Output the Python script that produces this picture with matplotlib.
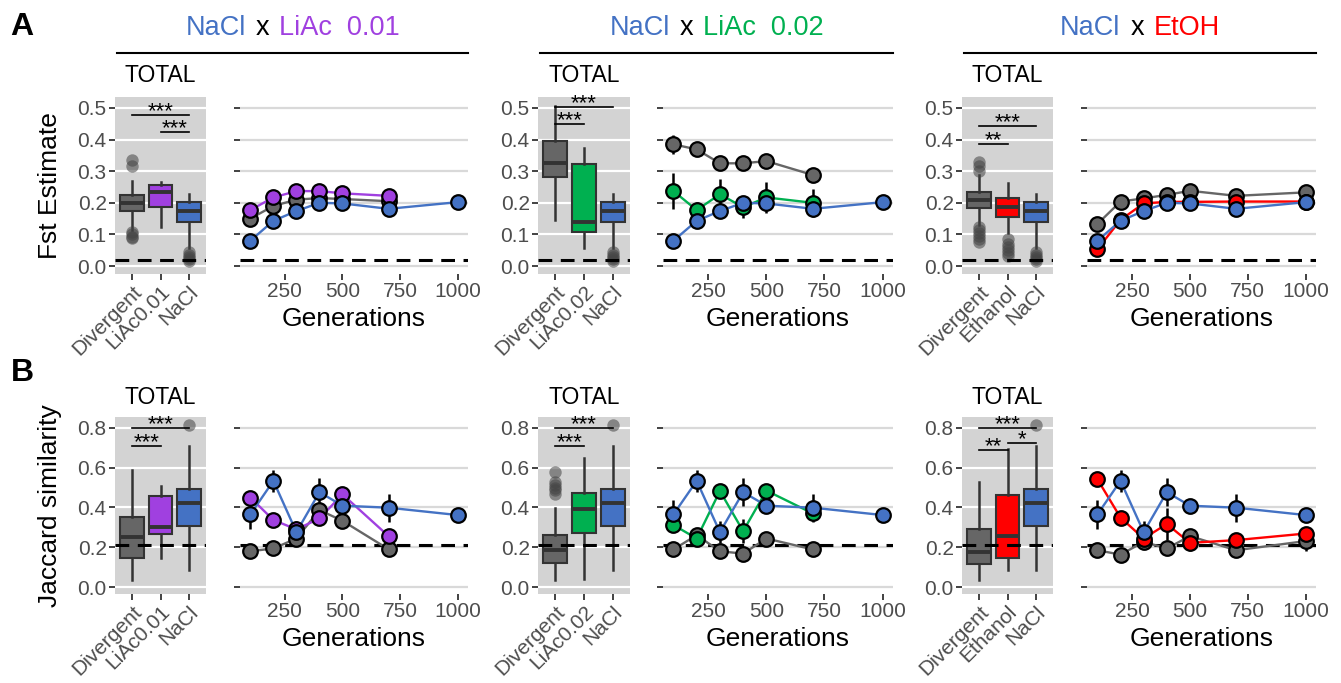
import matplotlib.pyplot as plt
from matplotlib.lines import Line2D
from matplotlib.offsetbox import AnchoredOffsetbox, HPacker, TextArea

plt.rcParams['font.family'] = ['Liberation Sans', 'DejaVu Sans']

W, H = 1341, 683

# generations sampled (the LiAc panels stop at 700 for the treated lines)
gens = [100, 200, 300, 400, 500, 700, 1000]
gens_700 = [100, 200, 300, 400, 500, 700]

c_div = '#666666'
c_nacl = '#4472C4'
c_liac01 = '#A040E0'
c_liac02 = '#00B050'
c_etoh = '#FF0000'

cats_01 = ['Divergent', 'LiAc0.01', 'NaCl']
cats_02 = ['Divergent', 'LiAc0.02', 'NaCl']
cats_etoh = ['Divergent', 'Ethanol', 'NaCl']

# ---- Fst, box summaries: [low whisker, q1, median, q3, high whisker]
fst_box_nacl = [0.057, 0.140, 0.175, 0.2035, 0.228]
fst_out_nacl = [0.045, 0.036, 0.028, 0.022, 0.016]
fst_box_01 = [[0.114, 0.174, 0.200, 0.225, 0.270],
              [0.124, 0.187, 0.235, 0.256, 0.267]]
fst_out_01 = [[0.335, 0.315, 0.108, 0.100, 0.093, 0.088], []]
fst_box_02 = [[0.146, 0.283, 0.325, 0.397, 0.506],
              [0.056, 0.109, 0.140, 0.323, 0.372]]
fst_out_02 = [[], []]
fst_box_etoh = [[0.130, 0.185, 0.209, 0.233, 0.288],
                [0.105, 0.154, 0.186, 0.214, 0.262]]
fst_out_etoh = [[0.330, 0.315, 0.300, 0.125, 0.115, 0.105, 0.095, 0.085, 0.077],
                [0.085, 0.070, 0.060, 0.050, 0.040, 0.032]]

# ---- Jaccard, box summaries
jac_box_nacl = [0.084, 0.307, 0.424, 0.493, 0.707]
jac_out_nacl = [0.817]
jac_box_01 = [[0.037, 0.147, 0.253, 0.354, 0.590],
              [0.147, 0.266, 0.300, 0.460, 0.510]]
jac_out_01 = [[], []]
jac_box_02 = [[0.037, 0.121, 0.185, 0.264, 0.396],
              [0.042, 0.270, 0.390, 0.472, 0.648]]
jac_out_02 = [[0.580, 0.530, 0.515, 0.500, 0.490, 0.470], []]
jac_box_etoh = [[0.037, 0.118, 0.175, 0.290, 0.527],
                [0.084, 0.147, 0.256, 0.463, 0.696]]
jac_out_etoh = [[], []]

# significance bars: (group a, group b, height, label)
sig_fst_01 = [(1, 3, 0.478, '***'), (2, 3, 0.423, '***')]
sig_fst_02 = [(1, 3, 0.502, '***'), (1, 2, 0.449, '***')]
sig_fst_etoh = [(1, 3, 0.443, '***'), (1, 2, 0.386, '**')]
sig_jac_01 = [(1, 3, 0.800, '***'), (1, 2, 0.711, '***')]
sig_jac_02 = [(1, 3, 0.800, '***'), (1, 2, 0.711, '***')]
sig_jac_etoh = [(1, 3, 0.800, '***'), (1, 2, 0.687, '**'), (2, 3, 0.724, '*')]

# ---- Fst over generations (mean, error)
fst_nacl = [0.080, 0.143, 0.174, 0.200, 0.198, 0.181, 0.202]
fst_nacl_err = [0.012, 0.012, 0.012, 0.012, 0.012, 0.012, 0.008]
fst_div_01 = [0.150, 0.190, 0.210, 0.215, 0.212, 0.205]
fst_div_01_err = [0.010, 0.010, 0.010, 0.010, 0.010, 0.010]
fst_liac01 = [0.177, 0.217, 0.237, 0.237, 0.230, 0.222]
fst_liac01_err = [0.010, 0.010, 0.010, 0.010, 0.010, 0.010]
fst_div_02 = [0.385, 0.369, 0.325, 0.325, 0.332, 0.288]
fst_div_02_err = [0.030, 0.010, 0.010, 0.010, 0.010, 0.010]
fst_liac02 = [0.237, 0.177, 0.227, 0.186, 0.217, 0.200]
fst_liac02_err = [0.057, 0.025, 0.047, 0.034, 0.048, 0.044]
fst_div_etoh = [0.133, 0.204, 0.214, 0.225, 0.238, 0.222, 0.233]
fst_div_etoh_err = [0.010, 0.010, 0.010, 0.010, 0.010, 0.010, 0.010]
fst_etoh = [0.053, 0.146, 0.198, 0.203, 0.203, 0.204, 0.204]
fst_etoh_err = [0.010, 0.010, 0.010, 0.010, 0.010, 0.010, 0.010]

# ---- Jaccard over generations
jac_nacl = [0.365, 0.534, 0.276, 0.477, 0.409, 0.399, 0.362]
jac_nacl_err = [0.072, 0.055, 0.055, 0.070, 0.020, 0.070, 0.015]
jac_div_01 = [0.180, 0.194, 0.244, 0.387, 0.333, 0.190]
jac_div_01_err = [0.020, 0.020, 0.040, 0.030, 0.020, 0.020]
jac_liac01 = [0.450, 0.337, 0.290, 0.345, 0.466, 0.256]
jac_liac01_err = [0.020, 0.020, 0.020, 0.020, 0.020, 0.020]
jac_div_02 = [0.189, 0.261, 0.180, 0.168, 0.244, 0.189]
jac_div_02_err = [0.020, 0.030, 0.020, 0.030, 0.020, 0.020]
jac_liac02 = [0.312, 0.244, 0.483, 0.281, 0.485, 0.370]
jac_liac02_err = [0.030, 0.030, 0.020, 0.060, 0.020, 0.030]
jac_div_etoh = [0.185, 0.163, 0.227, 0.194, 0.256, 0.185, 0.231]
jac_div_etoh_err = [0.020, 0.020, 0.030, 0.020, 0.030, 0.030, 0.050]
jac_etoh = [0.542, 0.349, 0.244, 0.317, 0.222, 0.236, 0.269]
jac_etoh_err = [0.020, 0.020, 0.050, 0.080, 0.040, 0.030, 0.030]

fig = plt.figure(figsize=(W / 100, H / 100), dpi=100)


def add_ax(x0, x1, y0, y1):
    # pixel box -> figure fraction
    return fig.add_axes([x0 / W, 1 - y1 / H, (x1 - x0) / W, (y1 - y0) / H])


def style(ax, ylim, yticks, face, grid):
    ax.set_facecolor(face)
    ax.set_ylim(*ylim)
    ax.set_yticks(yticks)
    ax.set_yticklabels(['%.1f' % t for t in yticks])
    for s in ax.spines.values():
        s.set_visible(False)
    ax.grid(axis='y', color=grid, lw=1.6)
    ax.set_axisbelow(True)
    ax.tick_params(length=4, width=1.3, color='#333333', labelcolor='#4D4D4D',
                   labelsize=15, pad=2)


def draw_box(ax, cats, boxes, outs, cols, sigs, ylim, yticks, dash):
    style(ax, ylim, yticks, '#D3D3D3', 'white')
    stats = [dict(whislo=b[0], q1=b[1], med=b[2], q3=b[3], whishi=b[4], fliers=[])
             for b in boxes]
    art = ax.bxp(stats, positions=[1, 2, 3], widths=0.82, patch_artist=True,
                 showcaps=False, showfliers=False,
                 boxprops=dict(edgecolor='#333333', linewidth=1.5),
                 whiskerprops=dict(color='#333333', linewidth=1.8),
                 medianprops=dict(color='#333333', linewidth=2.8))
    for patch, c in zip(art['boxes'], cols):
        patch.set_facecolor(c)
    for i, o in enumerate(outs):
        if len(o):
            ax.scatter([i + 1] * len(o), o, s=80, color='#444444', alpha=0.55,
                       lw=0, zorder=3)
    ax.axhline(dash, color='black', ls=(0, (4.5, 2.8)), lw=2.2, zorder=4)
    for a, b, y, lab in sigs:
        ax.plot([a, b], [y, y], color='black', lw=1.2, zorder=5)
        ax.annotate(lab, ((a + b) / 2, y), xytext=(0, -1.5), textcoords='offset points',
                    ha='center', va='baseline', size=16)
    ax.set_xlim(0.4, 3.6)
    ax.set_xticks([1, 2, 3])
    ax.set_xticklabels(cats, rotation=45, ha='right', va='top', rotation_mode='anchor')


def draw_lines(ax, series, ylim, yticks, dash):
    style(ax, ylim, yticks, 'white', '#D9D9D9')
    ax.axhline(dash, color='black', ls=(0, (4.5, 2.8)), lw=2.2, zorder=1.5)
    for x, y, e, c in series:
        ax.plot(x, y, color=c, lw=1.7, zorder=2)
    for x, y, e, c in series:
        ax.errorbar(x, y, yerr=e, fmt='none', ecolor='black', elinewidth=1.8,
                    capsize=0, zorder=3)
    for k, (x, y, e, c) in enumerate(series):
        ax.plot(x, y, 'o', ms=10.5, mfc=c, mec='black', mew=1.6, zorder=4 + k)
    ax.set_xlim(55, 1045)
    ax.set_xticks([250, 500, 750, 1000])
    ax.tick_params(axis='y', labelleft=False)
    ax.set_xlabel('Generations', size=19, labelpad=4)


groups = [
    dict(box_x=(115, 206), line_x=(240, 468), cats=cats_01, col=c_liac01,
         title=[('NaCl', c_nacl), ('x', 'black'), ('LiAc  0.01', c_liac01)],
         fst_box=fst_box_01, fst_out=fst_out_01, fst_sig=sig_fst_01,
         jac_box=jac_box_01, jac_out=jac_out_01, jac_sig=sig_jac_01,
         fst_lines=[(gens_700, fst_div_01, fst_div_01_err, c_div),
                    (gens_700, fst_liac01, fst_liac01_err, c_liac01),
                    (gens, fst_nacl, fst_nacl_err, c_nacl)],
         jac_lines=[(gens_700, jac_div_01, jac_div_01_err, c_div),
                    (gens_700, jac_liac01, jac_liac01_err, c_liac01),
                    (gens, jac_nacl, jac_nacl_err, c_nacl)]),
    dict(box_x=(538, 630), line_x=(663, 893), cats=cats_02, col=c_liac02,
         title=[('NaCl', c_nacl), ('x', 'black'), ('LiAc  0.02', c_liac02)],
         fst_box=fst_box_02, fst_out=fst_out_02, fst_sig=sig_fst_02,
         jac_box=jac_box_02, jac_out=jac_out_02, jac_sig=sig_jac_02,
         fst_lines=[(gens_700, fst_div_02, fst_div_02_err, c_div),
                    (gens_700, fst_liac02, fst_liac02_err, c_liac02),
                    (gens, fst_nacl, fst_nacl_err, c_nacl)],
         jac_lines=[(gens_700, jac_div_02, jac_div_02_err, c_div),
                    (gens_700, jac_liac02, jac_liac02_err, c_liac02),
                    (gens, jac_nacl, jac_nacl_err, c_nacl)]),
    dict(box_x=(962, 1053), line_x=(1087, 1316), cats=cats_etoh, col=c_etoh,
         title=[('NaCl', c_nacl), ('x', 'black'), ('EtOH', c_etoh)],
         fst_box=fst_box_etoh, fst_out=fst_out_etoh, fst_sig=sig_fst_etoh,
         jac_box=jac_box_etoh, jac_out=jac_out_etoh, jac_sig=sig_jac_etoh,
         fst_lines=[(gens, fst_div_etoh, fst_div_etoh_err, c_div),
                    (gens, fst_etoh, fst_etoh_err, c_etoh),
                    (gens, fst_nacl, fst_nacl_err, c_nacl)],
         jac_lines=[(gens, jac_div_etoh, jac_div_etoh_err, c_div),
                    (gens, jac_etoh, jac_etoh_err, c_etoh),
                    (gens, jac_nacl, jac_nacl_err, c_nacl)]),
]

row_a = (97, 274)
row_b = (417, 594)
fst_lim, fst_ticks, fst_dash = (-0.0253, 0.5348), [0.0, 0.1, 0.2, 0.3, 0.4, 0.5], 0.018
jac_lim, jac_ticks, jac_dash = (-0.035, 0.855), [0.0, 0.2, 0.4, 0.6, 0.8], 0.21

for g in groups:
    bx0, bx1 = g['box_x']
    lx0, lx1 = g['line_x']
    cols = [c_div, g['col'], c_nacl]

    ax = add_ax(bx0, bx1, *row_a)
    draw_box(ax, g['cats'], g['fst_box'] + [fst_box_nacl], g['fst_out'] + [fst_out_nacl],
             cols, g['fst_sig'], fst_lim, fst_ticks, fst_dash)
    ax = add_ax(lx0, lx1, *row_a)
    draw_lines(ax, g['fst_lines'], fst_lim, fst_ticks, fst_dash)

    ax = add_ax(bx0, bx1, *row_b)
    draw_box(ax, g['cats'], g['jac_box'] + [jac_box_nacl], g['jac_out'] + [jac_out_nacl],
             cols, g['jac_sig'], jac_lim, jac_ticks, jac_dash)
    ax = add_ax(lx0, lx1, *row_b)
    draw_lines(ax, g['jac_lines'], jac_lim, jac_ticks, jac_dash)

    # TOTAL headers
    xc = (bx0 + bx1) / 2 / W
    fig.text(xc, 1 - 76 / H, 'TOTAL', ha='center', va='center', size=16.5)
    fig.text(xc, 1 - 397 / H, 'TOTAL', ha='center', va='center', size=16.5)

    # coloured group title with rule underneath
    parts = [TextArea(t, textprops=dict(color=c, size=19.5)) for t, c in g['title']]
    pack = HPacker(children=parts, align='baseline', pad=0, sep=7)
    box = AnchoredOffsetbox(loc='center', child=pack, pad=0, borderpad=0, frameon=False,
                            bbox_to_anchor=((bx0 + 2 + lx1) / 2 / W, 1 - 28 / H),
                            bbox_transform=fig.transFigure)
    fig.add_artist(box)
    fig.add_artist(Line2D([(bx0 + 2) / W, lx1 / W], [1 - 53 / H, 1 - 53 / H],
                          transform=fig.transFigure, color='black', lw=1.5))

fig.text(50 / W, 1 - 185.5 / H, 'Fst Estimate', rotation=90, ha='center', va='center', size=19)
fig.text(50 / W, 1 - 505.5 / H, 'Jaccard similarity', rotation=90, ha='center', va='center', size=19)
fig.text(22 / W, 1 - 27 / H, 'A', ha='center', va='center', size=23, weight='bold')
fig.text(22 / W, 1 - 373 / H, 'B', ha='center', va='center', size=23, weight='bold')

fig.savefig('out.png', dpi=100)
